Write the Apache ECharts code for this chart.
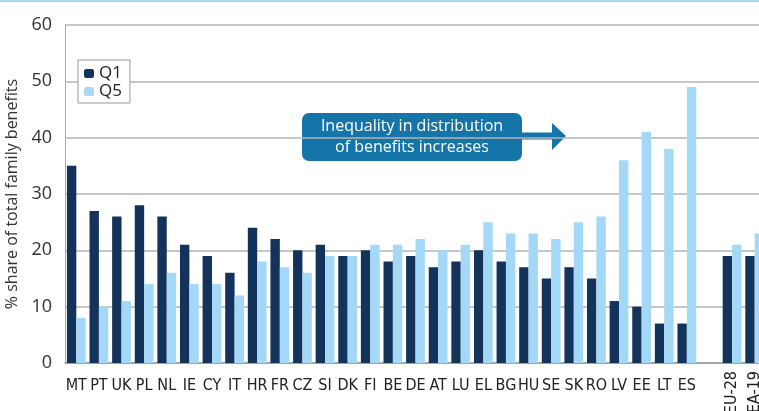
<!DOCTYPE html>
<html>
<head>
<meta charset="utf-8">
<script src="https://cdn.jsdelivr.net/npm/echarts@6/dist/echarts.min.js"></script>
<style>
  html, body { margin: 0; padding: 0; background: #fff; }
  #chart { width: 759px; height: 411px; }
</style>
</head>
<body>
<div id="chart"></div>
<script>
// categories (blank slot separates the countries from the aggregates)
const countries = ['MT', 'PT', 'UK', 'PL', 'NL', 'IE', 'CY', 'IT', 'HR', 'FR', 'CZ', 'SI', 'DK', 'FI',
  'BE', 'DE', 'AT', 'LU', 'EL', 'BG', 'HU', 'SE', 'SK', 'RO', 'LV', 'EE', 'LT', 'ES', '', 'EU-28', 'EA-19']
const aggregates = ['EU-28', 'EA-19']

// % share of total family benefits
const q1 = [35, 27, 26, 28, 26, 21, 19, 16, 24, 22, 20, 21, 19, 20,
  18, 19, 17, 18, 20, 18, 17, 15, 17, 15, 11, 10, 7, 7, null, 19, 19]
const q5 = [8, 10, 11, 14, 16, 14, 14, 12, 18, 17, 16, 19, 19, 21,
  21, 22, 20, 21, 25, 23, 23, 22, 25, 26, 36, 41, 38, 49, null, 21, 23]

const yTicks = [0, 10, 20, 30, 40, 50, 60]

const FONT = '"Open Sans", "DejaVu Sans", sans-serif'
const NARROW = '"DejaVu Sans", sans-serif'
const NAVY = '#14335a'
const LIGHT = '#a3d9f6'
const BOX = '#1575a9'

const chart = echarts.init(document.getElementById('chart'))

chart.setOption({
  animation: false,
  textStyle: { fontFamily: FONT },
  grid: { left: 65, top: 25, width: 701, height: 338, outerBoundsMode: 'none', containLabel: false },
  legend: {
    data: ['Q1', 'Q5'],
    orient: 'vertical',
    left: 78,
    top: 60,
    padding: [5, 8, 3, 6],
    itemGap: 1,
    itemWidth: 10,
    itemHeight: 9,
    borderColor: '#9a9a9a',
    borderWidth: 1,
    backgroundColor: '#fff',
    textStyle: { fontSize: 17, color: '#222', fontFamily: FONT }
  },
  xAxis: [
    {
      type: 'category',
      data: countries,
      axisLine: { lineStyle: { color: '#999', width: 1.5 } },
      axisTick: { length: 7, lineStyle: { color: '#999' } },
      axisLabel: {
        color: '#222', fontSize: 16, margin: 15, interval: 0,
        fontFamily: NARROW, fontWeight: 'condensed',
        formatter: v => aggregates.includes(v) ? '' : v
      }
    },
    {
      type: 'category',
      data: countries,
      position: 'bottom',
      axisLine: { show: false },
      axisTick: { show: false },
      axisLabel: {
        color: '#222', fontSize: 16, rotate: 90, margin: 8, interval: 0,
        fontFamily: NARROW, fontWeight: 'condensed',
        formatter: v => aggregates.includes(v) ? v : ''
      }
    }
  ],
  yAxis: {
    type: 'value',
    min: yTicks[0],
    max: yTicks[yTicks.length - 1],
    interval: 10,
    name: '% share of total family benefits',
    nameLocation: 'middle',
    nameGap: 42,
    nameRotate: 90,
    nameTextStyle: { fontSize: 16, color: '#333', fontFamily: FONT },
    axisLine: { show: true, lineStyle: { color: '#aaa' } },
    axisTick: { show: false },
    axisLabel: { color: '#333', fontSize: 18, margin: 13, fontFamily: FONT },
    splitLine: { lineStyle: { color: '#b5b5b5', width: 1.5 } }
  },
  series: [
    {
      name: 'Q1',
      type: 'bar',
      data: q1,
      barGap: '0%',
      barCategoryGap: '17%',
      itemStyle: { color: NAVY }
    },
    {
      name: 'Q5',
      type: 'bar',
      data: q5,
      itemStyle: { color: LIGHT }
    }
  ],
  graphic: [
    // thin light-blue rule along the top edge
    { type: 'rect', shape: { x: 0, y: 0, width: 759, height: 2 }, style: { fill: '#a9d5ee' }, silent: true },
    // annotation box with arrow
    {
      type: 'group',
      left: 302,
      top: 113,
      children: [
        { type: 'rect', shape: { x: 0, y: 0, width: 220, height: 48, r: 7 }, style: { fill: BOX } },
        { type: 'rect', shape: { x: 219, y: 19.5, width: 32, height: 7 }, style: { fill: BOX } },
        { type: 'polygon', shape: { points: [[250, 10], [264, 23], [250, 37]] }, style: { fill: BOX } },
        {
          type: 'text',
          x: 110,
          y: 24,
          style: {
            text: 'Inequality in distribution\nof benefits increases',
            fill: '#fff',
            font: '16px ' + FONT,
            align: 'center',
            verticalAlign: 'middle',
            lineHeight: 21
          }
        }
      ]
    }
  ]
})
</script>
</body>
</html>
